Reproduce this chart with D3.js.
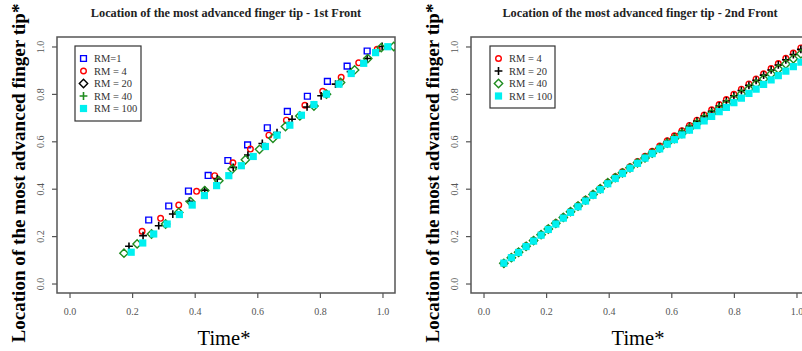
<!DOCTYPE html>
<html><head><meta charset="utf-8">
<script src="https://cdn.jsdelivr.net/npm/d3@7"></script>
<style>
html,body{margin:0;padding:0;background:#fff;}
svg{display:block;}
</style>
</head><body>
<svg id="chart" width="802" height="351"></svg>
<script>
// ---------- DATA ----------
const titles = ["Location of the most advanced finger tip - 1st Front",
                "Location of the most advanced finger tip - 2nd Front"];
const xLabel = "Time*";
const yLabel = "Location of the most advanced finger tip*";
const tickValues = [0, 0.2, 0.4, 0.6, 0.8, 1.0];
const tickLabels = ["0.0", "0.2", "0.4", "0.6", "0.8", "1.0"];

// 1st front
const f1_rm1_t = [0.253,0.317,0.380,0.443,0.506,0.569,0.632,0.696,0.760,0.824,0.887,0.951];
const f1_rm1_v = [0.268,0.327,0.390,0.456,0.519,0.585,0.657,0.726,0.790,0.853,0.917,0.981];
const f1_rm4_t = [0.232,0.291,0.349,0.406,0.464,0.522,0.578,0.637,0.693,0.752,0.809,0.868,0.924,0.983];
const f1_rm4_v = [0.220,0.275,0.331,0.389,0.455,0.509,0.567,0.626,0.689,0.752,0.811,0.870,0.931,0.988];
const f1_rm20_t = [0.190,0.235,0.285,0.330,0.383,0.432,0.472,0.523,0.570,0.616,0.663,0.711,0.759,0.804,0.850,0.898,0.951,0.999];
const f1_rm20_v = [0.157,0.202,0.244,0.293,0.347,0.394,0.441,0.490,0.542,0.591,0.637,0.693,0.745,0.792,0.841,0.894,0.949,1.000];
const f1_rm40_t = [0.174,0.216,0.262,0.307,0.349,0.387,0.432,0.477,0.520,0.562,0.607,0.650,0.690,0.736,0.781,0.821,0.866,0.911,0.953,0.996,1.036];
const f1_rm40_v = [0.128,0.167,0.209,0.251,0.300,0.345,0.392,0.434,0.483,0.522,0.566,0.613,0.662,0.707,0.749,0.799,0.848,0.901,0.949,0.995,1.000];
const f1_rm100_t = [0.197,0.234,0.269,0.312,0.351,0.392,0.431,0.470,0.509,0.549,0.587,0.626,0.663,0.704,0.741,0.781,0.821,0.861,0.900,0.940,0.978,1.017];
const f1_rm100_v = [0.132,0.171,0.209,0.251,0.291,0.331,0.371,0.413,0.455,0.497,0.536,0.578,0.626,0.668,0.710,0.755,0.799,0.841,0.886,0.929,0.974,0.999];

// 2nd front
const f2_t = [0.065,0.089,0.112,0.136,0.160,0.184,0.207,0.231,0.255,0.278,0.302,0.326,0.350,0.373,0.397,0.421,0.444,0.468,0.492,0.516,0.539,0.563,0.587,0.610,0.634,0.658,0.682,0.705,0.729,0.753,0.776,0.800,0.824,0.848,0.871,0.895,0.919,0.942,0.966,0.990,1.014];
const f2_rm4_v = [0.086,0.111,0.134,0.159,0.183,0.208,0.232,0.256,0.281,0.305,0.329,0.354,0.378,0.402,0.427,0.450,0.471,0.493,0.515,0.537,0.558,0.580,0.602,0.623,0.645,0.667,0.689,0.711,0.733,0.755,0.776,0.798,0.820,0.842,0.863,0.885,0.907,0.928,0.950,0.972,0.994];
const f2_rm20_v = [0.084,0.109,0.132,0.157,0.181,0.206,0.230,0.254,0.279,0.303,0.327,0.352,0.376,0.400,0.425,0.446,0.467,0.489,0.511,0.533,0.554,0.576,0.598,0.619,0.641,0.663,0.685,0.707,0.727,0.749,0.770,0.792,0.814,0.836,0.857,0.879,0.901,0.922,0.944,0.966,0.988];
const f2_rm40_v = [0.085,0.109,0.132,0.157,0.181,0.206,0.230,0.254,0.279,0.303,0.327,0.352,0.376,0.400,0.425,0.447,0.467,0.488,0.509,0.530,0.550,0.571,0.592,0.612,0.633,0.654,0.675,0.696,0.717,0.738,0.758,0.779,0.800,0.821,0.842,0.863,0.884,0.905,0.926,0.948,0.969];
const f2_rm100_v = [0.086,0.109,0.131,0.156,0.179,0.204,0.228,0.251,0.276,0.300,0.324,0.348,0.372,0.396,0.421,0.443,0.464,0.486,0.507,0.529,0.548,0.568,0.588,0.607,0.627,0.647,0.666,0.686,0.705,0.725,0.743,0.763,0.782,0.802,0.820,0.840,0.859,0.877,0.896,0.915,0.934];

const legend1 = ["RM=1", "RM = 4", "RM = 20", "RM = 40", "RM = 100"];
const legend2 = ["RM = 4", "RM = 20", "RM = 40", "RM = 100"];

// ---------- STYLE ----------
const COL = {blue:"#0000ff", red:"#ff0000", black:"#000000", green:"#1f8c1f", cyan:"#00f0f0"};
const SERIF = "'Liberation Serif','Times New Roman',serif";

function symPath(shape, s) {
  switch (shape) {
    case "square": return `M${-s},${-s}H${s}V${s}H${-s}Z`;
    case "plus": return `M${-s-0.8},0H${s+0.8}M0,${-s-0.8}V${s+0.8}`;
    case "diamond": { const d = s*1.35; return `M0,${-d}L${d},0L0,${d}L${-d},0Z`; }
  }
}
function drawSymbol(g, shape, color, x, y) {
  if (shape === "circle") {
    g.append("circle").attr("cx",x).attr("cy",y).attr("r",2.8)
      .attr("fill","none").attr("stroke",color).attr("stroke-width",1.4);
  } else if (shape === "fsquare") {
    g.append("rect").attr("x",x-3.6).attr("y",y-3.6).attr("width",7.2).attr("height",7.2)
      .attr("fill",color);
  } else {
    const s = shape === "square" ? 2.9 : 3.1;
    g.append("path").attr("transform",`translate(${x},${y})`).attr("d",symPath(shape,s))
      .attr("fill","none").attr("stroke",color).attr("stroke-width",shape==="plus"?1.6:1.4);
  }
}

const svg = d3.select("#chart");

function panel(opt) {
  const x = d3.scaleLinear().domain([-0.04,1.04]).range([opt.left, opt.left+338]);
  const y = d3.scaleLinear().domain([-0.04,1.04]).range([293, 37]);
  const g = svg.append("g");
  const clipId = "clip"+opt.id;
  svg.append("clipPath").attr("id",clipId).append("rect")
    .attr("x",opt.left).attr("y",37).attr("width",338).attr("height",256);

  // title
  g.append("text").attr("x",opt.left+169).attr("y",16.5).attr("text-anchor","middle")
    .attr("font-family",SERIF).attr("font-weight","bold").attr("font-size",12.3)
    .attr("fill","#222").text(opt.title);

  // axes
  const xa = g.append("g").attr("transform","translate(0,293)")
    .call(d3.axisBottom(x).tickValues(tickValues).tickFormat((d,i)=>tickLabels[i]).tickSize(5).tickPadding(10));
  xa.select(".domain").remove();
  const ya = g.append("g").attr("transform",`translate(${opt.left},0)`)
    .call(d3.axisLeft(y).tickValues(tickValues).tickFormat((d,i)=>tickLabels[i]).tickSize(5));
  ya.select(".domain").remove();
  [xa, ya].forEach(a => {
    a.selectAll("line").attr("stroke","#555").attr("stroke-width",1.2);
    a.selectAll("text").attr("font-family",SERIF).attr("font-size",10).attr("fill","#555");
  });
  ya.selectAll("text").attr("x",null).attr("dy",null)
    .attr("text-anchor","middle")
    .attr("transform", "translate(-16,0) rotate(-90)")
    .attr("dy","0.32em");

  // box
  g.append("rect").attr("x",opt.left).attr("y",37).attr("width",338).attr("height",256)
    .attr("fill","none").attr("stroke","#555").attr("stroke-width",1.5);

  // axis titles
  g.append("text").attr("x",opt.left+167).attr("y",345).attr("text-anchor","middle")
    .attr("font-family",SERIF).attr("font-size",20.5).attr("fill","#000").text(xLabel);
  g.append("text").attr("transform",`translate(${opt.left-32},173) rotate(-90)`)
    .attr("text-anchor","middle")
    .attr("font-family",SERIF).attr("font-weight","bold").attr("font-size",19.1).attr("fill","#000").text(yLabel);

  // points
  const pg = g.append("g").attr("clip-path",`url(#${clipId})`);
  opt.series.forEach(s => {
    s.t.forEach((t,i) => drawSymbol(pg, s.shape, s.color, x(t), y(s.v[i])));
  });

  // legend
  const lg = g.append("g");
  lg.append("rect").attr("x",opt.leg.x).attr("y",46).attr("width",opt.leg.w).attr("height",opt.leg.h)
    .attr("fill","#fff").attr("stroke","#333").attr("stroke-width",1.2);
  opt.leg.items.forEach((it,i) => {
    const yy = 58.5 + i*12.5;
    drawSymbol(lg, it.shape, it.color, opt.leg.x+8.5, yy);
    lg.append("text").attr("x",opt.leg.x+19).attr("y",yy).attr("dy","0.34em")
      .attr("font-family",SERIF).attr("font-size",10.5).attr("fill","#333").text(it.label);
  });
}

panel({
  id: 1, left: 57, title: titles[0],
  series: [
    {t:f1_rm1_t, v:f1_rm1_v, shape:"square", color:COL.blue},
    {t:f1_rm4_t, v:f1_rm4_v, shape:"circle", color:COL.red},
    {t:f1_rm20_t, v:f1_rm20_v, shape:"plus", color:COL.black},
    {t:f1_rm40_t, v:f1_rm40_v, shape:"diamond", color:COL.green},
    {t:f1_rm100_t, v:f1_rm100_v, shape:"fsquare", color:COL.cyan}
  ],
  leg: {x:75, w:66, h:75, items:[
    {label:legend1[0], shape:"square", color:COL.blue},
    {label:legend1[1], shape:"circle", color:COL.red},
    {label:legend1[2], shape:"diamond", color:COL.black},
    {label:legend1[3], shape:"plus", color:COL.green},
    {label:legend1[4], shape:"fsquare", color:COL.cyan}
  ]}
});

panel({
  id: 2, left: 471, title: titles[1],
  series: [
    {t:f2_t, v:f2_rm4_v, shape:"circle", color:COL.red},
    {t:f2_t, v:f2_rm20_v, shape:"plus", color:COL.black},
    {t:f2_t, v:f2_rm40_v, shape:"diamond", color:COL.green},
    {t:f2_t, v:f2_rm100_v, shape:"fsquare", color:COL.cyan}
  ],
  leg: {x:490, w:65, h:62, items:[
    {label:legend2[0], shape:"circle", color:COL.red},
    {label:legend2[1], shape:"plus", color:COL.black},
    {label:legend2[2], shape:"diamond", color:COL.green},
    {label:legend2[3], shape:"fsquare", color:COL.cyan}
  ]}
});
</script>
</body></html>
